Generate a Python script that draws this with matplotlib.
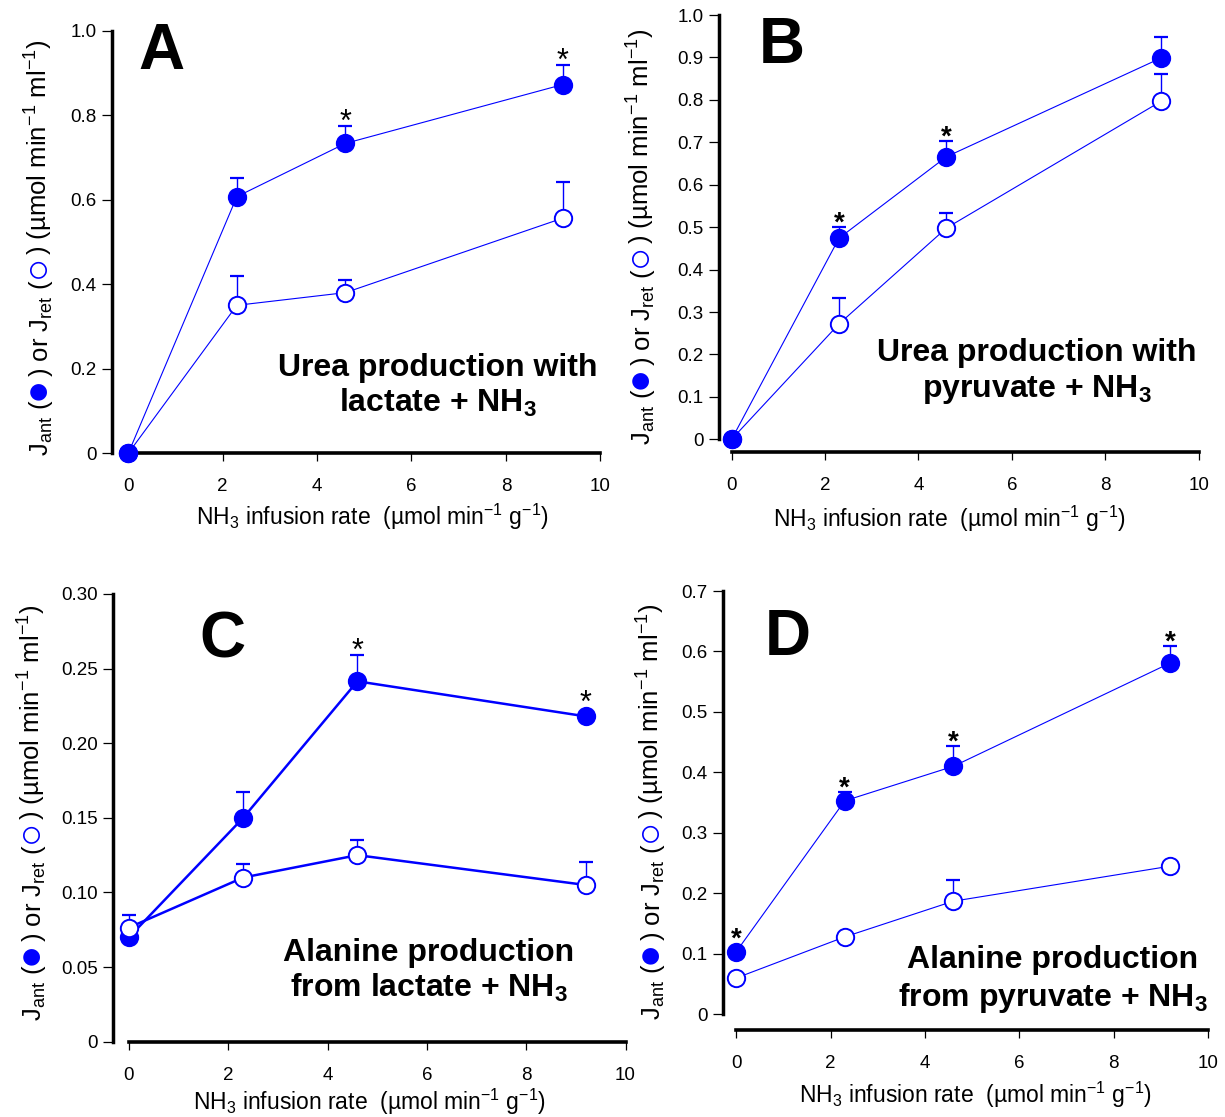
import matplotlib
matplotlib.use('Agg')
import matplotlib.pyplot as plt
import matplotlib.transforms as mtransforms
import numpy as np

plt.rcParams['font.family'] = ['Liberation Sans', 'DejaVu Sans']
plt.rcParams['mathtext.fontset'] = 'custom'
plt.rcParams['mathtext.rm'] = 'Liberation Sans'
plt.rcParams['mathtext.it'] = 'Liberation Sans:italic'
plt.rcParams['mathtext.bf'] = 'Liberation Sans:bold'

BLUE = '#0000ff'
W, H = 1225, 1117

# NH3 infusion rates (umol/min/g)
nh3 = [0, 2.3, 4.6, 9.2]

# A: urea production with lactate + NH3
urea_lac_ant = [0.0, 0.607, 0.733, 0.872]
urea_lac_ant_err = [0.0, 0.045, 0.042, 0.046]
urea_lac_ret = [0.0, 0.350, 0.380, 0.556]
urea_lac_ret_err = [0.0, 0.069, 0.030, 0.085]
urea_lac_sig = [2, 3]

# B: urea production with pyruvate + NH3
urea_pyr_ant = [0.0, 0.474, 0.666, 0.899]
urea_pyr_ant_err = [0.0, 0.026, 0.036, 0.049]
urea_pyr_ret = [0.0, 0.272, 0.498, 0.797]
urea_pyr_ret_err = [0.0, 0.060, 0.035, 0.065]
urea_pyr_sig = [1, 2]

# C: alanine production from lactate + NH3
ala_lac_ant = [0.070, 0.150, 0.2415, 0.218]
ala_lac_ant_err = [0.0, 0.017, 0.0175, 0.0]
ala_lac_ret = [0.0765, 0.110, 0.125, 0.105]
ala_lac_ret_err = [0.0085, 0.009, 0.010, 0.0155]
ala_lac_sig = [2, 3]

# D: alanine production from pyruvate + NH3
ala_pyr_ant = [0.1034, 0.353, 0.410, 0.581]
ala_pyr_ant_err = [0.0, 0.015, 0.034, 0.028]
ala_pyr_ret = [0.060, 0.128, 0.187, 0.245]
ala_pyr_ret_err = [0.0, 0.0, 0.035, 0.0]
ala_pyr_sig = [0, 1, 2, 3]

yticks_A = [0, 0.2, 0.4, 0.6, 0.8, 1.0]
ylabels_A = ['0', '0.2', '0.4', '0.6', '0.8', '1.0']
yticks_B = [0, 0.1, 0.2, 0.3, 0.4, 0.5, 0.6, 0.7, 0.8, 0.9, 1.0]
ylabels_B = ['0', '0.1', '0.2', '0.3', '0.4', '0.5', '0.6', '0.7', '0.8', '0.9', '1.0']
yticks_C = [0, 0.05, 0.10, 0.15, 0.20, 0.25, 0.30]
ylabels_C = ['0', '0.05', '0.10', '0.15', '0.20', '0.25', '0.30']
yticks_D = [0, 0.1, 0.2, 0.3, 0.4, 0.5, 0.6, 0.7]
ylabels_D = ['0', '0.1', '0.2', '0.3', '0.4', '0.5', '0.6', '0.7']
xticks = [0, 2, 4, 6, 8, 10]

fig = plt.figure(figsize=(W / 100, H / 100), dpi=100)
renderer = fig.canvas.get_renderer()
pix = mtransforms.IdentityTransform()


def make_axes(left, right, top, bottom, xmin, ymax, yticks, ylabels, offset):
    ax = fig.add_axes([left / W, 1 - bottom / H, (right - left) / W, (bottom - top) / H])
    ax.set_xlim(xmin, 10)
    ax.set_ylim(0, ymax)
    for s in ['top', 'right']:
        ax.spines[s].set_visible(False)
    ax.spines['left'].set_linewidth(2.5)
    ax.spines['bottom'].set_linewidth(2.6)
    ax.spines['left'].set_bounds(0, ymax)
    ax.spines['bottom'].set_bounds(0, 10)
    ax.spines['bottom'].set_position(('outward', offset))
    ax.set_xticks(xticks)
    ax.set_yticks(yticks)
    ax.set_yticklabels(ylabels)
    ax.tick_params(axis='y', length=7, width=0.9, pad=4, labelsize=13.5)
    ax.tick_params(axis='x', length=6, width=0.9, pad=12, labelsize=13.5)
    ax.patch.set_visible(False)
    return ax


def draw_series(ax, y, err, filled, lw, z):
    x = np.array(nh3)
    y = np.array(y)
    err = np.array(err)
    has = err > 0
    if has.any():
        ax.errorbar(x[has], y[has], yerr=[np.zeros(has.sum()), err[has]], fmt='none',
                    ecolor=BLUE, elinewidth=1.0, capsize=5, capthick=1.6,
                    clip_on=False, zorder=z)
    ax.plot(x, y, '-o', color=BLUE, lw=lw, ms=12.5,
            mfc=BLUE if filled else 'white', mec=BLUE, mew=1.4,
            clip_on=False, zorder=z + 0.5)


def stars(ax, y, err, idx, bold, size):
    for i in idx:
        top = y[i] + err[i]
        gap = 13 if err[i] > 0 else 22
        ax.annotate('*', xy=(nh3[i], top), xytext=(0, gap - 0.59 * size * 100 / 72),
                    textcoords='offset pixels', ha='center', va='baseline',
                    fontsize=size, fontweight='bold' if bold else 'normal')


def rotated_label(x_img, center_img, size=18.5):
    # y label built from pieces so the two symbol circles can be blue
    pieces = [('J$_{\\rm ant}$ (', 'black', size),
              ('\u25cf', BLUE, size * 1.5),
              (') or J$_{\\rm ret}$ (', 'black', size),
              ('\u25cb', BLUE, size * 1.5),
              (') (\u00b5mol min$^{-1}$ ml$^{-1}$)', 'black', size)]
    texts = []
    total = 0
    for s, c, fs in pieces:
        t = fig.text(0, 0, s, rotation=90, rotation_mode='anchor', ha='left',
                     va='baseline', color=c, fontsize=fs, transform=pix)
        ext = t.get_window_extent(renderer)
        texts.append((t, ext.height))
        total += ext.height
    y = (H - center_img) - total / 2
    for t, h in texts:
        t.set_position((x_img, y))
        y += h


def inset(cx, lines, baselines, size=23):
    for s, b in zip(lines, baselines):
        fig.text(cx, H - b, s, transform=pix, ha='center', va='baseline',
                 fontsize=size, fontweight='bold')


def letter(cx, base, s):
    fig.text(cx, H - base, s, transform=pix, ha='center', va='baseline',
             fontsize=46, fontweight='bold')


xlab = 'NH$_3$ infusion rate  (\u00b5mol min$^{-1}$ g$^{-1}$)'

# panel A
axA = make_axes(112, 600.3, 30.5, 453.3, -0.345, 1.0, yticks_A, ylabels_A, 0)
draw_series(axA, urea_lac_ret, urea_lac_ret_err, False, 0.8, 3)
draw_series(axA, urea_lac_ant, urea_lac_ant_err, True, 0.8, 4)
stars(axA, urea_lac_ant, urea_lac_ant_err, urea_lac_sig, False, 22)
axA.set_xlabel(xlab, fontsize=16.5, labelpad=5)
axA.xaxis.label.set_x(0.533)
rotated_label(48, 248)
letter(161.5, 69, 'A')
inset(438, ['Urea production with', 'lactate + NH$_\\mathbf{3}$'], [376, 412])

# panel B
axB = make_axes(719, 1198.7, 15, 439.3, -0.27, 1.0, yticks_B, ylabels_B, 9.4)
draw_series(axB, urea_pyr_ret, urea_pyr_ret_err, False, 0.8, 3)
draw_series(axB, urea_pyr_ant, urea_pyr_ant_err, True, 0.8, 4)
stars(axB, urea_pyr_ant, urea_pyr_ant_err, urea_pyr_sig, True, 20)
axB.set_xlabel(xlab, fontsize=16.5, labelpad=6.5)
axB.xaxis.label.set_x(0.48)
rotated_label(650, 237)
letter(782, 63, 'B')
inset(1037, ['Urea production with', 'pyruvate + NH$_\\mathbf{3}$'], [361, 397])

# panel C
axC = make_axes(113.3, 625.5, 594, 1041.7, -0.316, 0.30, yticks_C, ylabels_C, 0)
draw_series(axC, ala_lac_ant, ala_lac_ant_err, True, 1.8, 3)
draw_series(axC, ala_lac_ret, ala_lac_ret_err, False, 1.8, 4)
stars(axC, ala_lac_ant, ala_lac_ant_err, ala_lac_sig, False, 22)
axC.set_xlabel(xlab, fontsize=16.5, labelpad=2.5)
axC.xaxis.label.set_x(0.5)
rotated_label(41, 813)
letter(222, 658, 'C')
inset(429, ['Alanine production', 'from lactate + NH$_\\mathbf{3}$'], [961, 997])

# panel D
axD = make_axes(723, 1208, 591, 1014.3, -0.28, 0.7, yticks_D, ylabels_D, 11)
draw_series(axD, ala_pyr_ret, ala_pyr_ret_err, False, 0.8, 3)
draw_series(axD, ala_pyr_ant, ala_pyr_ant_err, True, 0.8, 4)
stars(axD, ala_pyr_ant, ala_pyr_ant_err, ala_pyr_sig, True, 20)
axD.set_xlabel(xlab, fontsize=16.5, labelpad=6)
axD.xaxis.label.set_x(0.52)
rotated_label(660, 812)
letter(788, 655, 'D')
inset(1053, ['Alanine production', 'from pyruvate + NH$_\\mathbf{3}$'], [968, 1006])

fig.savefig('out.png', dpi=100)
